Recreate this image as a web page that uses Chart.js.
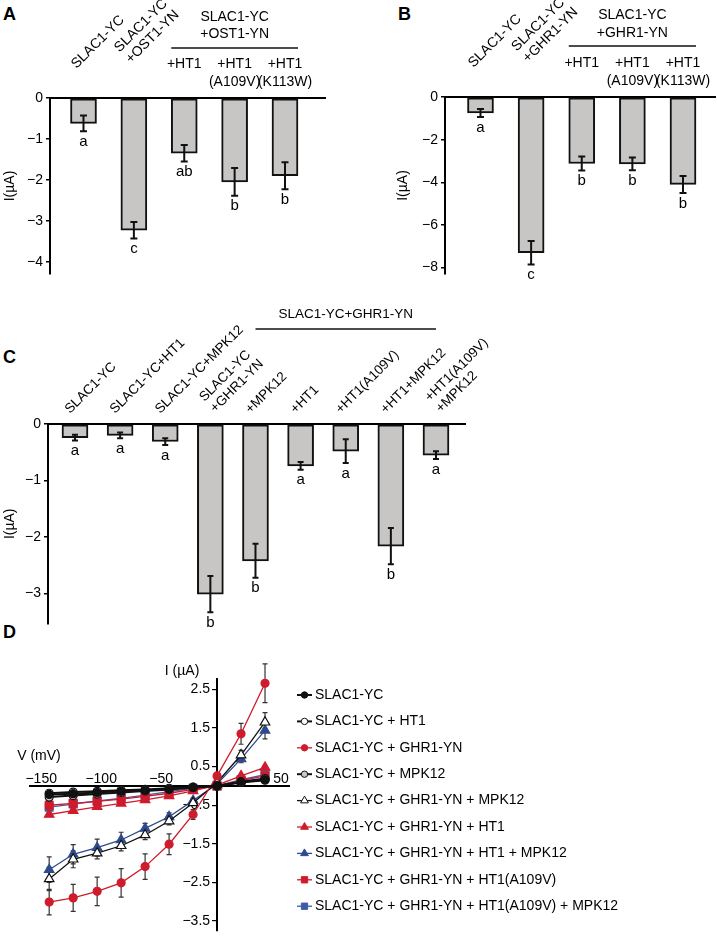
<!DOCTYPE html>
<html>
<head>
<meta charset="utf-8">
<script src="https://cdn.jsdelivr.net/npm/chart.js"></script>
<style>
  body { margin: 0; width: 717px; height: 937px; background: #fff; position: relative; overflow: hidden; }
  canvas { position: absolute; }
  .tag { position: absolute; font: bold 18px/18px "Liberation Sans", Arial, sans-serif; color: #000; }
</style>
</head>
<body>
<div class="tag" style="left:3px;top:5px">A</div>
<div class="tag" style="left:398px;top:5px">B</div>
<div class="tag" style="left:3px;top:348px">C</div>
<div class="tag" style="left:3px;top:623px">D</div>
<canvas id="chartA" width="360" height="290" style="left:0;top:0"></canvas>
<canvas id="chartB" width="357" height="290" style="left:360px;top:0"></canvas>
<canvas id="chartC" width="717" height="345" style="left:0;top:290px"></canvas>
<canvas id="chartD" width="717" height="337" style="left:0;top:600px"></canvas>
<script>
const FONT = '"Liberation Sans", Arial, sans-serif';
Chart.defaults.font.family = FONT;
Chart.defaults.color = '#000';
Chart.defaults.animation = false;

// ---- panel A: SLAC1 + OST1 ----
const aLabels = ['SLAC1-YC', 'SLAC1-YC\n+OST1-YN', '+HT1', '+HT1\n(A109V)', '+HT1\n(K113W)'];
const aHeader = ['SLAC1-YC', '+OST1-YN'];
const aValues = [-0.62, -3.23, -1.35, -2.05, -1.9];
const aErrors = [0.19, 0.2, 0.2, 0.34, 0.33];
const aLetters = ['a', 'c', 'ab', 'b', 'b'];
const aTicks = [0, -1, -2, -3, -4];

// ---- panel B: SLAC1 + GHR1 ----
const bLabels = ['SLAC1-YC', 'SLAC1-YC\n+GHR1-YN', '+HT1', '+HT1\n(A109V)', '+HT1\n(K113W)'];
const bHeader = ['SLAC1-YC', '+GHR1-YN'];
const bValues = [-0.75, -7.3, -3.12, -3.14, -4.1];
const bErrors = [0.19, 0.55, 0.33, 0.3, 0.4];
const bLetters = ['a', 'c', 'b', 'b', 'b'];
const bTicks = [0, -2, -4, -6, -8];

// ---- panel C ----
const cLabels = ['SLAC1-YC', 'SLAC1-YC+HT1', 'SLAC1-YC+MPK12', 'SLAC1-YC\n+GHR1-YN', '+MPK12',
  '+HT1', '+HT1(A109V)', '+HT1+MPK12', '+HT1(A109V)\n+MPK12'];
const cHeader = ['SLAC1-YC+GHR1-YN'];
const cValues = [-0.24, -0.2, -0.31, -3.01, -2.42, -0.74, -0.48, -2.16, -0.55];
const cErrors = [0.05, 0.05, 0.06, 0.32, 0.3, 0.07, 0.21, 0.32, 0.07];
const cLetters = ['a', 'a', 'a', 'b', 'b', 'a', 'a', 'b', 'a'];
const cTicks = [0, -1, -2, -3];

// ---- panel D: I-V curves ----
const dVoltages = [-140, -120, -100, -80, -60, -40, -20, 0, 20, 40];
const dNames = ['SLAC1-YC', 'SLAC1-YC + HT1', 'SLAC1-YC + GHR1-YN', 'SLAC1-YC + MPK12',
  'SLAC1-YC + GHR1-YN + MPK12', 'SLAC1-YC + GHR1-YN + HT1', 'SLAC1-YC + GHR1-YN + HT1 + MPK12',
  'SLAC1-YC + GHR1-YN + HT1(A109V)', 'SLAC1-YC + GHR1-YN + HT1(A109V) + MPK12'];
const ivSlac = [-0.22, -0.2, -0.17, -0.14, -0.11, -0.08, -0.04, 0, 0.1, 0.16];
const ivHt1 = [-0.19, -0.16, -0.14, -0.11, -0.09, -0.06, -0.03, 0, 0.09, 0.15];
const ivGhr1 = [-3.01, -2.9, -2.73, -2.51, -2.09, -1.51, -0.74, 0.26, 1.35, 2.66];
const ivMpk12 = [-0.29, -0.25, -0.21, -0.17, -0.13, -0.09, -0.04, 0, 0.11, 0.19];
const ivGhrMpk = [-2.41, -1.9, -1.74, -1.55, -1.27, -0.91, -0.44, 0.09, 0.8, 1.65];
const ivGhrHt1 = [-0.74, -0.64, -0.54, -0.45, -0.36, -0.26, -0.13, 0.02, 0.26, 0.48];
const ivGhrHt1Mpk = [-2.17, -1.77, -1.6, -1.4, -1.1, -0.8, -0.38, 0.05, 0.7, 1.44];
const ivGhrA109 = [-0.5, -0.45, -0.4, -0.34, -0.27, -0.19, -0.09, 0, 0.14, 0.26];
const ivGhrA109Mpk = [-0.55, -0.47, -0.39, -0.32, -0.24, -0.15, -0.06, 0, 0.16, 0.29];
const errSmall = [0.04, 0.04, 0.03, 0.03, 0.03, 0.02, 0.02, 0.02, 0.03, 0.04];
const errGhr1 = [0.33, 0.35, 0.37, 0.37, 0.33, 0.27, 0.13, 0.06, 0.27, 0.5];
const errGhrMpk = [0.3, 0.22, 0.15, 0.13, 0.12, 0.1, 0.06, 0.04, 0.12, 0.25];
const errGhrHt1Mpk = [0.33, 0.25, 0.22, 0.2, 0.13, 0.1, 0.06, 0.03, 0.1, 0.22];
const dXTicks = [-150, -100, -50, 50];
const dYTicks = [2.5, 1.5, 0.5, -0.5, -1.5, -2.5, -3.5];

function fmt(v) {
  return v < 0 ? '\u2212' + Math.abs(v) : String(v);
}

function rotatedText(ctx, lines, x, y, lh) {
  ctx.save();
  ctx.translate(x, y);
  ctx.rotate(-Math.PI / 4);
  ctx.textAlign = 'left';
  ctx.textBaseline = 'alphabetic';
  lines.forEach((t, k) => ctx.fillText(t, 0, -(lines.length - 1 - k) * lh));
  ctx.restore();
}

function barPanel(id, p) {
  const textPlugin = {
    id: 'barText',
    afterDatasetsDraw(chart) {
      const ctx = chart.ctx;
      const xs = chart.scales.x, ys = chart.scales.y;
      const bars = chart.getDatasetMeta(0).data;
      const zero = ys.getPixelForValue(0);
      ctx.save();
      ctx.strokeStyle = '#111';
      ctx.lineWidth = 2;
      ctx.fillStyle = '#000';
      p.values.forEach((v, i) => {
        const x = xs.getPixelForValue(i + 1);
        const top = ys.getPixelForValue(v + p.errors[i]);
        const bot = ys.getPixelForValue(v - p.errors[i]);
        ctx.beginPath();
        ctx.moveTo(x, top); ctx.lineTo(x, bot);
        ctx.moveTo(x - p.cap, top); ctx.lineTo(x + p.cap, top);
        ctx.moveTo(x - p.cap, bot); ctx.lineTo(x + p.cap, bot);
        ctx.stroke();
        ctx.font = '15px ' + FONT;
        ctx.textAlign = 'center';
        ctx.textBaseline = 'top';
        ctx.fillText(p.letters[i], x, bot + 3);

        // category labels above the zero line
        const lines = p.labels[i].split('\n');
        if (i < p.groupFrom) {
          ctx.font = p.rotFont + 'px ' + FONT;
          const off = lines.length > 1 ? p.rotMulti : p.rotSingle;
          rotatedText(ctx, lines, x + off[0], zero + off[1], p.rotLh);
        } else {
          ctx.font = '14px ' + FONT;
          ctx.textAlign = 'center';
          ctx.textBaseline = 'middle';
          lines.forEach((t, k) => ctx.fillText(t, x, zero - 34 + k * 18.5));
        }
      });
      // group header with its bracket line
      const first = bars[p.lineFrom], last = bars[bars.length - 1];
      const x1 = p.lineEdge ? first.x - first.width / 2 : first.x;
      const x2 = p.lineEdge ? last.x + last.width / 2 : last.x;
      ctx.lineWidth = 1.5;
      ctx.beginPath();
      ctx.moveTo(x1, zero + p.lineY);
      ctx.lineTo(x2, zero + p.lineY);
      ctx.stroke();
      ctx.font = p.headFont + 'px ' + FONT;
      ctx.textAlign = 'center';
      ctx.textBaseline = 'middle';
      p.header.forEach((t, k) => ctx.fillText(t, (x1 + x2) / 2, zero + p.headY[k]));
      ctx.restore();
    }
  };

  return new Chart(document.getElementById(id), {
    type: 'bar',
    data: {
      datasets: [{
        data: p.values.map((v, i) => ({ x: i + 1, y: v })),
        backgroundColor: '#c8c6c5',
        borderColor: '#111',
        borderWidth: 2,
        borderSkipped: false,
        barThickness: 26
      }]
    },
    options: {
      responsive: false,
      devicePixelRatio: 1,
      layout: { padding: p.pad },
      plugins: { legend: { display: false }, tooltip: { enabled: false } },
      scales: {
        x: {
          type: 'linear', position: 'top', min: p.xMin, max: p.xMax, offset: false,
          ticks: { display: false },
          grid: { display: false },
          border: { color: '#000', width: 2 },
          afterFit: s => { s.height = 0; }
        },
        y: {
          min: p.yMin, max: 0,
          afterFit: s => { s.width = p.axisWidth; },
          afterBuildTicks: s => { s.ticks = p.ticks.map(v => ({ value: v })); },
          ticks: { callback: v => fmt(v), font: { size: 14 }, color: '#000', padding: 3 },
          grid: { drawOnChartArea: false, drawTicks: true, tickLength: 4, color: '#000', lineWidth: 1.5 },
          border: { color: '#000', width: 2 },
          title: { display: true, text: 'I(µA)', font: { size: 14 }, color: '#000', padding: { top: 2, bottom: 0 } }
        }
      }
    },
    plugins: [textPlugin]
  });
}

barPanel('chartA', {
  labels: aLabels, header: aHeader, values: aValues, errors: aErrors, letters: aLetters, ticks: aTicks,
  groupFrom: 2, lineFrom: 2, lineEdge: true, lineY: -50, headY: [-81, -64], headFont: 14,
  rotFont: 14, rotLh: 16, rotSingle: [-7, -29], rotMulti: [-3, -34], cap: 3.5,
  yMin: -4.3, xMin: 0.335, xMax: 5.794, axisWidth: 50,
  pad: { left: 0, right: 35, top: 98, bottom: 16 }
});

barPanel('chartB', {
  labels: bLabels, header: bHeader, values: bValues, errors: bErrors, letters: bLetters, ticks: bTicks,
  groupFrom: 2, lineFrom: 2, lineEdge: true, lineY: -51, headY: [-82, -64], headFont: 14,
  rotFont: 14, rotLh: 16, rotSingle: [-7, -29], rotMulti: [-3, -34], cap: 3.5,
  yMin: -8.3, xMin: 0.299, xMax: 5.632, axisWidth: 52,
  pad: { left: 33, right: 2, top: 97, bottom: 16 }
});

barPanel('chartC', {
  labels: cLabels, header: cHeader, values: cValues, errors: cErrors, letters: cLetters, ticks: cTicks,
  groupFrom: cLabels.length, lineFrom: 4, lineEdge: false, lineY: -95, headY: [-110], headFont: 13.5,
  rotFont: 13.5, rotLh: 15.5, rotSingle: [-5, -10], rotMulti: [5, -11], cap: 3,
  yMin: -3.53, xMin: 0.402, xMax: 9.643, axisWidth: 48,
  pad: { left: 0, right: 252, top: 134, bottom: 11 }
});

// ---- panel D ----
const dValues = [ivSlac, ivHt1, ivGhr1, ivMpk12, ivGhrMpk, ivGhrHt1, ivGhrHt1Mpk, ivGhrA109, ivGhrA109Mpk];
const dErrors = [errSmall, errSmall, errGhr1, errSmall, errGhrMpk, errSmall, errGhrHt1Mpk, errSmall, errSmall];
const RED = '#cf1b2c', NAVY = '#2f4b8e', BLUE = '#3d5ca5';
const dLineColors = ['#111', '#111', RED, '#111', '#111', RED, NAVY, RED, BLUE];
const dFills = ['#111', '#fff', RED, '#c9c9c9', '#fff', RED, NAVY, RED, BLUE];
const dShapes = ['circle', 'circle', 'circle', 'circle', 'triangle', 'triangle', 'triangle', 'rect', 'rect'];
const dRadius = { circle: 4, triangle: 5.5, rect: 5.5 };
const dLineWidths = [2, 2, 1.3, 2, 1.3, 1.3, 1.3, 1.3, 1.3];

function marker(ctx, shape, x, y, r, fill, stroke) {
  ctx.beginPath();
  if (shape === 'circle') {
    ctx.arc(x, y, r, 0, Math.PI * 2);
  } else if (shape === 'triangle') {
    ctx.moveTo(x, y - r);
    ctx.lineTo(x + r * 0.866, y + r * 0.5);
    ctx.lineTo(x - r * 0.866, y + r * 0.5);
    ctx.closePath();
  } else {
    ctx.rect(x - r * 0.7, y - r * 0.7, r * 1.4, r * 1.4);
  }
  ctx.fillStyle = fill;
  ctx.fill();
  ctx.lineWidth = 1;
  ctx.strokeStyle = stroke;
  ctx.stroke();
}

const ivPlugin = {
  id: 'ivText',
  beforeDatasetsDraw(chart) {
    const { ctx, chartArea } = chart;
    const xs = chart.scales.x, ys = chart.scales.y;
    const x0 = xs.getPixelForValue(0), y0 = ys.getPixelForValue(0);
    ctx.save();
    ctx.fillStyle = '#000';
    ctx.font = '14px ' + FONT;
    ctx.textAlign = 'center';
    ctx.textBaseline = 'alphabetic';
    dXTicks.forEach(v => ctx.fillText(fmt(v), xs.getPixelForValue(v) + 4, y0 - 3));
    ctx.textAlign = 'right';
    ctx.textBaseline = 'middle';
    dYTicks.forEach(v => ctx.fillText(fmt(v), x0 - 7, ys.getPixelForValue(v)));
    ctx.textAlign = 'center';
    ctx.fillText('I (µA)', x0 - 35, chartArea.top - 8);
    ctx.fillText('V (mV)', chartArea.left + 9, y0 - 30);
    // error bars behind the markers
    ctx.strokeStyle = '#333';
    ctx.lineWidth = 1.2;
    dValues.forEach((vals, s) => vals.forEach((v, i) => {
      const x = xs.getPixelForValue(dVoltages[i]);
      const t = ys.getPixelForValue(v + dErrors[s][i]);
      const b = ys.getPixelForValue(v - dErrors[s][i]);
      ctx.beginPath();
      ctx.moveTo(x, t); ctx.lineTo(x, b);
      ctx.moveTo(x - 2.5, t); ctx.lineTo(x + 2.5, t);
      ctx.moveTo(x - 2.5, b); ctx.lineTo(x + 2.5, b);
      ctx.stroke();
    }));
    ctx.restore();
  },
  afterDraw(chart) {
    const ctx = chart.ctx;
    ctx.save();
    dNames.forEach((name, i) => {
      const y = 95 + i * 26.4;
      ctx.strokeStyle = dLineColors[i];
      ctx.lineWidth = dLineWidths[i];
      ctx.beginPath();
      ctx.moveTo(297, y);
      ctx.lineTo(312, y);
      ctx.stroke();
      const r = dShapes[i] === 'circle' ? 3.2 : 4.5;
      marker(ctx, dShapes[i], 304.5, y, r, dFills[i], dLineColors[i]);
      ctx.fillStyle = '#000';
      ctx.font = '14px ' + FONT;
      ctx.textAlign = 'left';
      ctx.textBaseline = 'middle';
      ctx.fillText(name, 315, y);
    });
    ctx.restore();
  }
};

new Chart(document.getElementById('chartD'), {
  type: 'line',
  data: {
    datasets: dNames.map((name, s) => ({
      label: name,
      data: dVoltages.map((v, i) => ({ x: v, y: dValues[s][i] })),
      borderColor: dLineColors[s],
      borderWidth: dLineWidths[s],
      pointStyle: dShapes[s],
      pointRadius: dRadius[dShapes[s]],
      pointBackgroundColor: dFills[s],
      pointBorderColor: dLineColors[s],
      pointBorderWidth: 1.2,
      tension: 0,
      fill: false
    }))
  },
  options: {
    responsive: false,
    devicePixelRatio: 1,
    layout: { padding: { left: 30, right: 428, top: 79, bottom: 4 } },
    plugins: { legend: { display: false }, tooltip: { enabled: false } },
    scales: {
      x: {
        type: 'linear', min: -156, max: 60, position: { y: 0 },
        afterBuildTicks: s => { s.ticks = dXTicks.map(v => ({ value: v })); },
        ticks: { display: false },
        grid: { display: false },
        border: { color: '#000', width: 2 }
      },
      y: {
        type: 'linear', min: -3.74, max: 2.77, position: { x: 0 },
        afterBuildTicks: s => { s.ticks = dYTicks.map(v => ({ value: v })); },
        ticks: { display: false },
        grid: { drawOnChartArea: false, drawTicks: true, tickLength: 4, color: '#000', lineWidth: 1.2 },
        border: { color: '#000', width: 2 }
      }
    }
  },
  plugins: [ivPlugin]
});
</script>
</body>
</html>
